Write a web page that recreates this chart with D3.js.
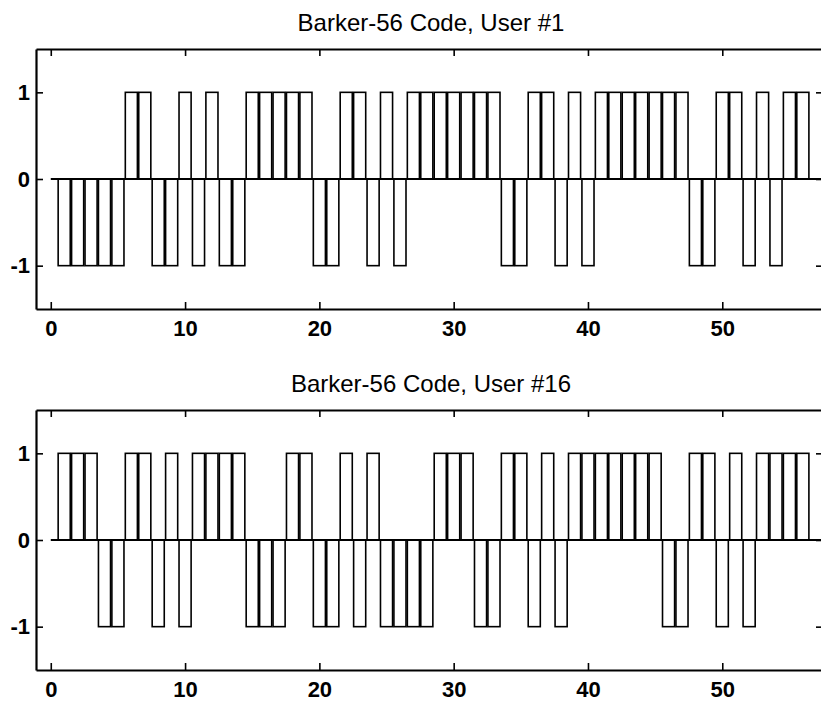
<!DOCTYPE html>
<html>
<head>
<meta charset="utf-8">
<script src="https://cdn.jsdelivr.net/npm/d3@7"></script>
<style>
    body { margin: 0; background: #fff; }
    svg { display: block; }
</style>
</head>
<body>
<svg width="821" height="703"></svg>
<script>
// chip values, chips 1..56
var user1Chips = [
    -1, -1, -1, -1, -1, 1, 1, -1, -1, 1,
    -1, 1, -1, -1, 1, 1, 1, 1, 1, -1,
    -1, 1, 1, -1, 1, -1, 1, 1, 1, 1,
    1, 1, 1, -1, -1, 1, 1, -1, 1, -1,
    1, 1, 1, 1, 1, 1, 1, -1, -1, 1,
    1, -1, 1, -1, 1, 1
];
var user16Chips = [
    1, 1, 1, -1, -1, 1, 1, -1, 1, -1,
    1, 1, 1, 1, -1, -1, -1, 1, 1, -1,
    -1, 1, -1, 1, -1, -1, -1, -1, 1, 1,
    1, -1, -1, 1, 1, -1, 1, -1, 1, 1,
    1, 1, 1, 1, 1, -1, -1, 1, 1, -1,
    1, -1, 1, 1, 1, 1
];
var panelTitles = ["Barker-56 Code, User #1", "Barker-56 Code, User #16"];
var xTickValues = [0, 10, 20, 30, 40, 50];
var yTickValues = [-1, 0, 1];

var fontFamily = "'Liberation Sans', Arial, Helvetica, sans-serif";
var plotLeft = 36;
var plotRight = 823;
var plotHeight = 260;
var panelTops = [49, 410];
var barWidth = 0.9;

var svg = d3.select("svg");

var xScale = d3.scaleLinear([-1.1, 57.5], [plotLeft, plotRight]);

function drawPanel(chips, title, top) {
    var yScale = d3.scaleLinear([-1.5, 1.5], [top + plotHeight, top]);
    var g = svg.append("g");

    // Title
    g.append("text")
        .attr("x", 431)
        .attr("y", top - 18)
        .attr("text-anchor", "middle")
        .attr("font-family", fontFamily)
        .attr("font-size", 24)
        .text(title);

    // Bars
    g.append("g")
        .selectAll("rect")
        .data(chips)
        .enter()
            .append("rect")
            .attr("x", function(d, i) {
                return xScale(i + 1 - barWidth / 2);
            })
            .attr("y", function(d) {
                return yScale(Math.max(0, d));
            })
            .attr("width", xScale(barWidth) - xScale(0))
            .attr("height", function(d) {
                return Math.abs(yScale(d) - yScale(0));
            })
            .attr("fill", "none")
            .attr("stroke", "#000")
            .attr("stroke-width", 1.6);

    // Zero line
    g.append("line")
        .attr("x1", xScale(0))
        .attr("x2", plotRight)
        .attr("y1", yScale(0))
        .attr("y2", yScale(0))
        .attr("stroke", "#000")
        .attr("stroke-width", 1.8);

    // Axes
    var plainNumber = function(d) { return String(d); };
    var bottomAxis = d3.axisBottom(xScale).tickValues(xTickValues).tickSize(-7).tickSizeOuter(0).tickPadding(11).tickFormat(plainNumber);
    var topAxis = d3.axisTop(xScale).tickValues(xTickValues).tickSize(-7).tickSizeOuter(0).tickFormat("");
    var leftAxis = d3.axisLeft(yScale).tickValues(yTickValues).tickSize(-7).tickSizeOuter(0).tickPadding(6).tickFormat(plainNumber);
    var rightAxis = d3.axisRight(yScale).tickValues(yTickValues).tickSize(-7).tickSizeOuter(0).tickFormat("");

    var axes = [
        [bottomAxis, "translate(0," + (top + plotHeight) + ")"],
        [topAxis, "translate(0," + top + ")"],
        [leftAxis, "translate(" + plotLeft + ",0)"],
        [rightAxis, "translate(" + plotRight + ",0)"]
    ];
    axes.forEach(function(a) {
        var ag = g.append("g")
            .attr("transform", a[1])
            .call(a[0]);
        ag.attr("font-family", fontFamily).attr("font-size", 22).attr("font-weight", "bold");
        ag.select(".domain").attr("stroke-width", 2.2);
        ag.selectAll(".tick line").attr("stroke-width", 1.6);
        ag.selectAll(".tick text").attr("fill", "#000");
    });
}

drawPanel(user1Chips, panelTitles[0], panelTops[0]);
drawPanel(user16Chips, panelTitles[1], panelTops[1]);
</script>
</body>
</html>
